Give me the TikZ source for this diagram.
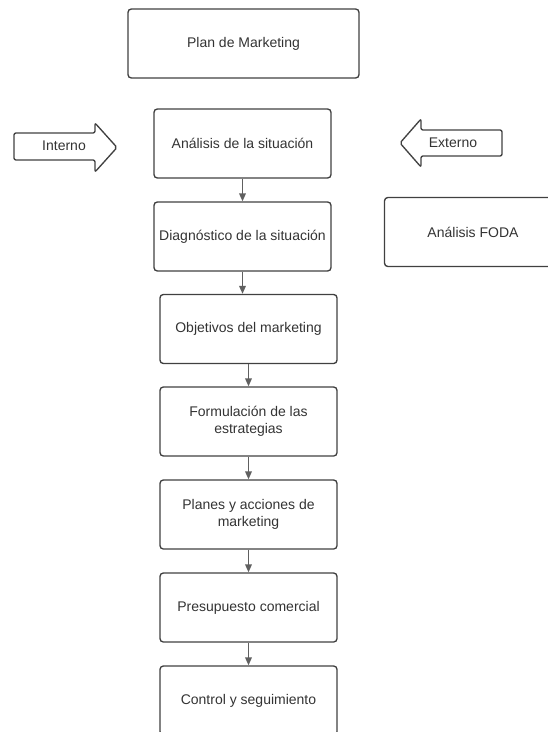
\documentclass[tikz,border=0pt]{standalone}
\usepackage{fontspec}
\setmainfont{Liberation Sans}
\usetikzlibrary{arrows.meta, positioning}
\definecolor{boxgray}{RGB}{64, 64, 64}
\definecolor{txtgray}{RGB}{51, 51, 51}
\definecolor{linkgray}{RGB}{96, 96, 96}

\begin{document}
\begin{tikzpicture}[
  x=0.75pt, y=-0.75pt,
  stepbox/.style={draw=boxgray, line width=1pt, rounded corners=2.5pt, minimum width=132.75pt, minimum height=51.75pt, text width=127pt, align=flush center, inner sep=2pt, font=\fontsize{10.5}{12.5}\selectfont, text=txtgray},
  bigarrow/.style={draw=boxgray, line width=1pt, rounded corners=1.5pt},
  tag/.style={font=\fontsize{10.5}{12.5}\selectfont, text=txtgray, inner sep=1pt},
  link/.style={draw=linkgray, line width=1pt, -{Triangle[length=6pt, width=5pt]}}
]
  \useasboundingbox (0,0) rectangle (548,732);
  \clip (0,0) rectangle (548,732);

  \node[stepbox, minimum width=173.25pt] (plan) at (243.5, 43.5) {Plan de Marketing};

  \node[stepbox] (analisis) at (242.5, 143.5) {Análisis de la situación};
  \node[stepbox] (diagnostico) at (242.5, 236.5) {Diagnóstico de la situación};
  \node[stepbox] (objetivos) at (248.5, 329) {Objetivos del marketing};
  \node[stepbox] (formulacion) at (248.5, 421.5) {Formulación de las estrategias};
  \node[stepbox] (planes) at (248.5, 514.5) {Planes y acciones de marketing};
  \node[stepbox] (presupuesto) at (248.5, 607.5) {Presupuesto comercial};
  \node[stepbox] (control) at (248.5, 700.5) {Control y seguimiento};

  \node[stepbox] (foda) at (473, 232) {Análisis FODA};

  % flechas laterales
  \draw[bigarrow] (14,133) -- (95,133) -- (95,123) -- (117,147.5) -- (95,172) -- (95,160) -- (14,160) -- cycle;
  \node[tag] (interno) at (64, 146) {Interno};
  \draw[bigarrow] (502,130) -- (421,130) -- (421,119) -- (400,143) -- (421,167) -- (421,156) -- (502,156) -- cycle;
  \node[tag] (externo) at (453, 143) {Externo};

  \draw[link] (analisis) -- (diagnostico);
  \draw[link] (diagnostico.south) -- (diagnostico.south |- objetivos.north);
  \draw[link] (objetivos) -- (formulacion);
  \draw[link] (formulacion) -- (planes);
  \draw[link] (planes) -- (presupuesto);
  \draw[link] (presupuesto) -- (control);
\end{tikzpicture}
\end{document}
